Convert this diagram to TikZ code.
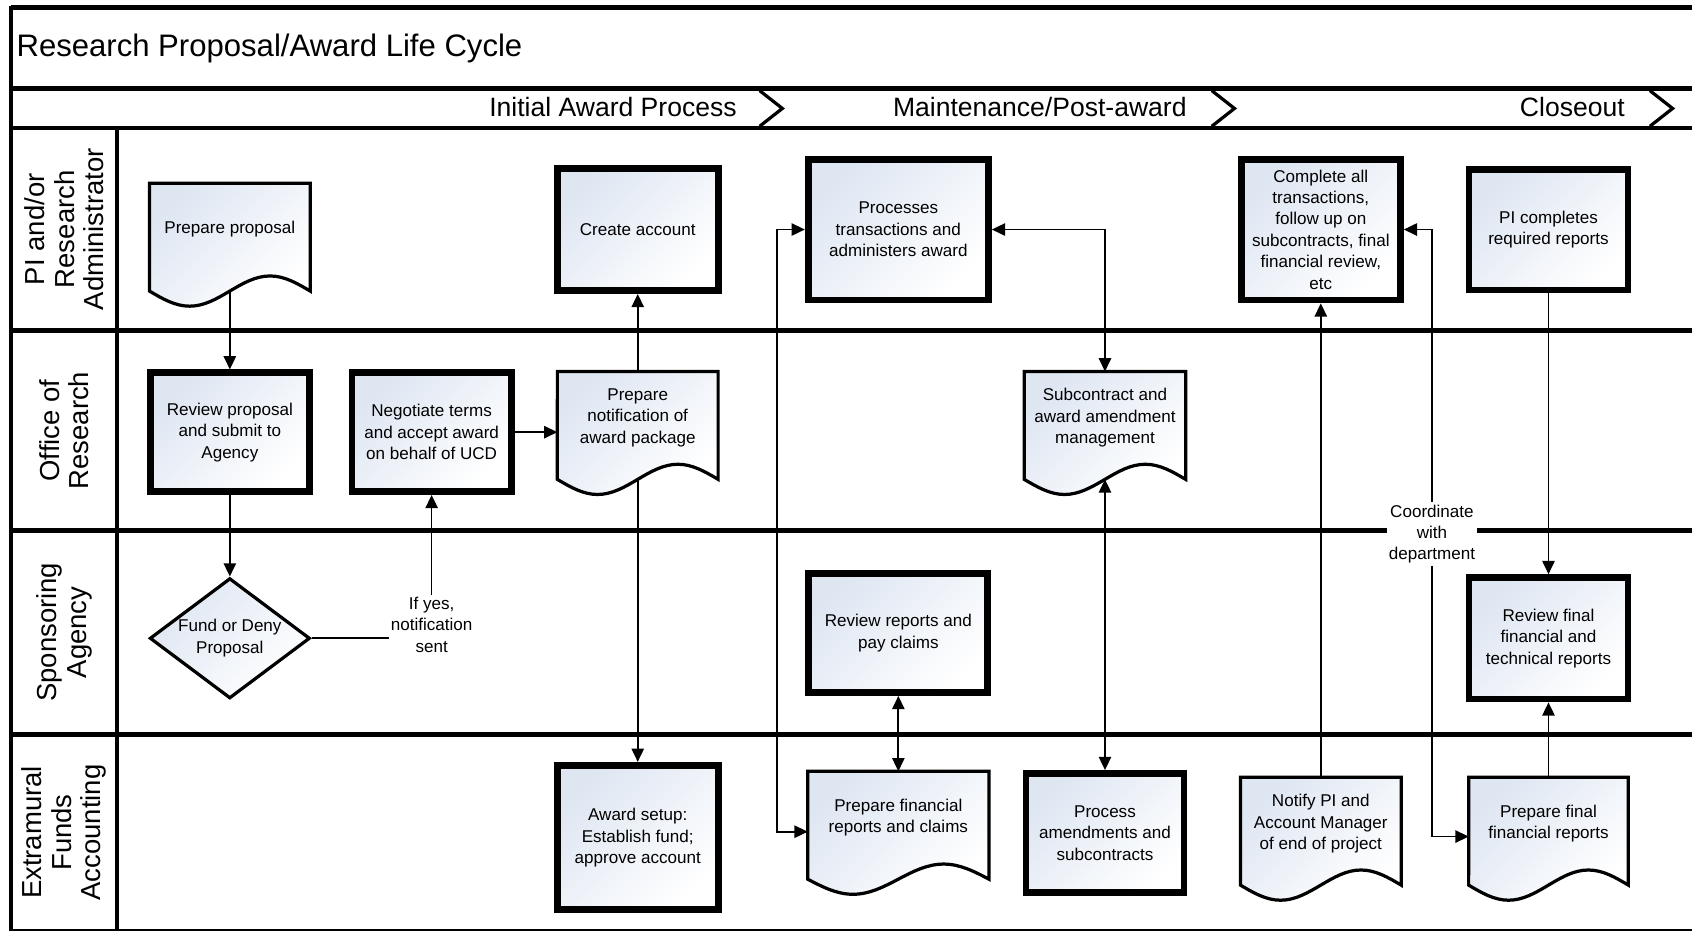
\documentclass[tikz,border=0pt]{standalone}
\usepackage{fontspec}
\setmainfont{Liberation Sans}
\usetikzlibrary{shapes.geometric,arrows.meta,backgrounds}

\definecolor{boxblue}{RGB}{222,230,242}
\newcommand{\boxfont}{\fontsize{9}{11.3}\selectfont}
\newcommand{\lanefont}{\fontsize{14.5}{15.6}\selectfont}

% document shape with a wavy bottom, drawn round a node
\newcommand{\docshape}[2]{%
  \draw[docline] (#1.north west) -- (#1.north east) -- ([yshift=-0.28cm]#1.south east)
    sin ++(-#2,-14) cos ++(-#2,14) sin ++(-#2,14) cos ++(-#2,-14) -- cycle;}

\begin{document}
\begin{tikzpicture}[x=0.02cm, y=-0.02cm,
  >={Triangle[length=7pt,width=6.5pt]},
  lane/.style={line width=2.6pt},
  conn/.style={line width=0.9pt},
  procbox/.style={draw, line width=3.6pt, top color=boxblue, bottom color=white,
    shading angle=45, align=center, font=\boxfont, inner sep=1pt},
  docbox/.style={rectangle, outer sep=0pt, inner sep=1pt, minimum height=1.72cm,
    align=center, font=\boxfont},
  docline/.style={draw, line width=1.7pt, top color=boxblue, bottom color=white,
    shading angle=45},
  decision/.style={diamond, draw, line width=1.7pt, aspect=1.33, inner sep=0pt,
    top color=boxblue, bottom color=white, shading angle=45, align=center, font=\boxfont},
  note/.style={align=center, font=\boxfont, inner sep=1pt},
  lanelabel/.style={rotate=90, align=center, font=\lanefont},
  phase/.style={anchor=base east, inner sep=0pt, font=\fontsize{14}{16}\selectfont},
  chevron/.style={line width=1.7pt}]

\useasboundingbox (0,0) rectangle (1568,865);

% Frame and lanes
\draw[lane] (10.5,6.8) -- (1568,6.8);
\draw[lane] (10.5,82) -- (1568,82);
\draw[lane] (10.5,118.6) -- (1568,118.6);
\draw[lane] (10.5,306.4) -- (1568,306.4);
\draw[lane] (10.5,491.8) -- (1568,491.8);
\draw[lane] (10.5,681) -- (1568,681);
\draw[line width=0.8pt] (10.5,862) -- (1568,862);
\draw[line width=2.1pt] (10.5,5.5) -- (10.5,863);
\draw[line width=2.1pt] (108.4,118.6) -- (108.4,862);

% Title and phases
\node[anchor=base west, inner sep=0pt, font=\fontsize{16.4}{19}\selectfont] (title) at (15,52.5) {Research Proposal/Award Life Cycle};
\node[phase] (ph1) at (683,107.5) {Initial Award Process};
\node[phase] (ph2) at (1100,107.5) {Maintenance/Post-award};
\node[phase] (ph3) at (1506,107.5) {Closeout};
\draw[chevron] (704,84) -- (725,100.5) -- (704,117);
\draw[chevron] (1123,84) -- (1144,100.5) -- (1123,117);
\draw[chevron] (1529,84) -- (1550,100.5) -- (1529,117);

% Lane labels
\node[lanelabel] (ln1) at (59.5,212.5) {PI and/or\\Research\\Administrator};
\node[lanelabel] (ln2) at (59.5,399) {Office of\\Research};
\node[lanelabel] (ln3) at (59.5,586) {Sponsoring\\Agency};
\node[lanelabel] (ln4) at (59.5,771.5) {Extramural\\Funds\\Accounting};

% PI and/or Research Administrator
\node[docbox, minimum width=2.98cm] (prepprop) at (213,212.75) {Prepare proposal};
\node[procbox, minimum width=2.99cm, minimum height=2.26cm] (create) at (591,212.75) {Create account};
\node[procbox, minimum width=3.34cm, minimum height=2.61cm] (procs) at (832.5,212.7) {Processes\\transactions and\\administers award};
\node[procbox, minimum width=2.95cm, minimum height=2.61cm] (compl) at (1224,212.7) {Complete all\\transactions,\\follow up on\\subcontracts, final\\financial review,\\etc};
\node[procbox, minimum width=2.95cm, minimum height=2.24cm] (picomp) at (1435,212.7) {PI completes\\required reports};

% Office of Research
\node[procbox, minimum width=2.95cm, minimum height=2.2cm] (review) at (213,400.5) {Review proposal\\and submit to\\Agency};
\node[procbox, minimum width=2.95cm, minimum height=2.2cm] (negot) at (400,400.5) {Negotiate terms\\and accept award\\on behalf of UCD};
\node[docbox, minimum width=2.98cm] (prepnot) at (591,387.25) {Prepare\\notification of\\award package};
\node[docbox, minimum width=2.99cm] (subc) at (1024,387.25) {Subcontract and\\award amendment\\management};

% Sponsoring Agency
\node[decision, minimum width=2.97cm, minimum height=2.23cm] (fund) at (213,591.5) {Fund or Deny\\Proposal};
\node[note] (ifyes) at (400,579) {If yes,\\notification\\sent};
\node[procbox, minimum width=3.32cm, minimum height=2.21cm] (revrep) at (832.5,586.5) {Review reports and\\pay claims};
\node[procbox, minimum width=2.95cm, minimum height=2.25cm] (revfin) at (1435,591.5) {Review final\\financial and\\technical reports};
\node[note, fill=white] (coord) at (1327,495) {Coordinate\\with\\department};

% Extramural Funds Accounting
\node[procbox, minimum width=2.99cm, minimum height=2.68cm] (setup) at (591,776.2) {Award setup:\\Establish fund;\\approve account};
\node[docbox, minimum width=3.36cm] (prepfin) at (832.5,757.75) {Prepare financial\\reports and claims};
\node[procbox, minimum width=2.93cm, minimum height=2.2cm] (procam) at (1024,771.8) {Process\\amendments and\\subcontracts};
\node[docbox, minimum width=2.98cm] (notify) at (1224,763.25) {Notify PI and\\Account Manager\\of end of project};
\node[docbox, minimum width=2.96cm] (prepfinal) at (1435,763.25) {Prepare final\\financial reports};

% Document outlines behind their text
\begin{scope}[on background layer]
\docshape{prepprop}{37.25}
\docshape{prepnot}{37.25}
\docshape{subc}{37.4}
\docshape{prepfin}{42}
\docshape{notify}{37.25}
\docshape{prepfinal}{37}
\end{scope}

% Connectors
\draw[conn,->] ([yshift=-0.28cm]prepprop.south) -- (review.north);
\draw[conn,->] (review.south) -- (fund.north);
\draw[conn] (fund.east) -- (fund.east -| ifyes.west);
\draw[conn,->] (ifyes.north) -- (ifyes.north |- negot.south);
\draw[conn,->] (negot.east) -- (negot.east -| prepnot.west);
\draw[conn,->] (prepnot.north) -- (create.south);
\draw[conn,->] ([yshift=-0.28cm]prepnot.south) -- (setup.north);
\draw[conn,<->] (procs.west) -- ++(-26,0) |- ([yshift=-0.26cm]prepfin.west);
\draw[conn,<->] (procs.east) -| (subc.north);
\draw[conn,<->] ([yshift=-0.28cm]subc.south) -- (procam.north);
\draw[conn,<->] (revrep.south) -- (prepfin.north);
\draw[conn,->] (notify.north) -- (notify.north |- compl.south);
\draw[conn,<-] (compl.east) -| (coord.north);
\draw[conn,->] (coord.south) |- ([yshift=-0.24cm]prepfinal.west);
\draw[conn,->] (picomp.south) -- (revfin.north);
\draw[conn,->] (prepfinal.north) -- (revfin.south);

\end{tikzpicture}
\end{document}
